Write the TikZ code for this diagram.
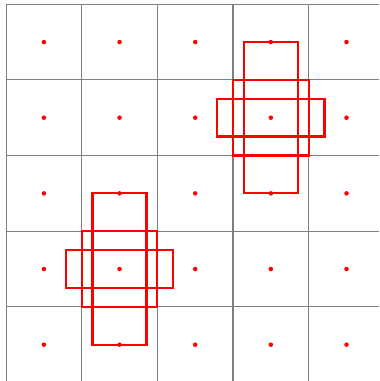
\documentclass[tikz,border=0pt]{standalone}
\begin{document}
\begin{tikzpicture}[gridline/.style={gray,line width=.4pt},anchorbox/.style={red,line width=.85pt}]
			\useasboundingbox (-.08,.02) rectangle (4.93,5.056);
			\begin{scope}
				\clip (-.08,.02) rectangle (4.93,5.056);
				\draw[gridline] (0,0) grid (5,5);
			\end{scope}
			\foreach \x in {0,...,4} \foreach \y in {0,...,4} \fill[red] (\x+.5,\y+.5) circle(.85pt);
			\foreach \cx/\cy in {3.5/3.5,1.5/1.5}{
				\draw[anchorbox] (\cx-.357,\cy-1) rectangle (\cx+.357,\cy+1);
				\draw[anchorbox] (\cx-.5,\cy-.5) rectangle (\cx+.5,\cy+.5);
				\draw[anchorbox] (\cx-.71,\cy-.25) rectangle (\cx+.71,\cy+.25);
			}
		\end{tikzpicture}
\end{document}
